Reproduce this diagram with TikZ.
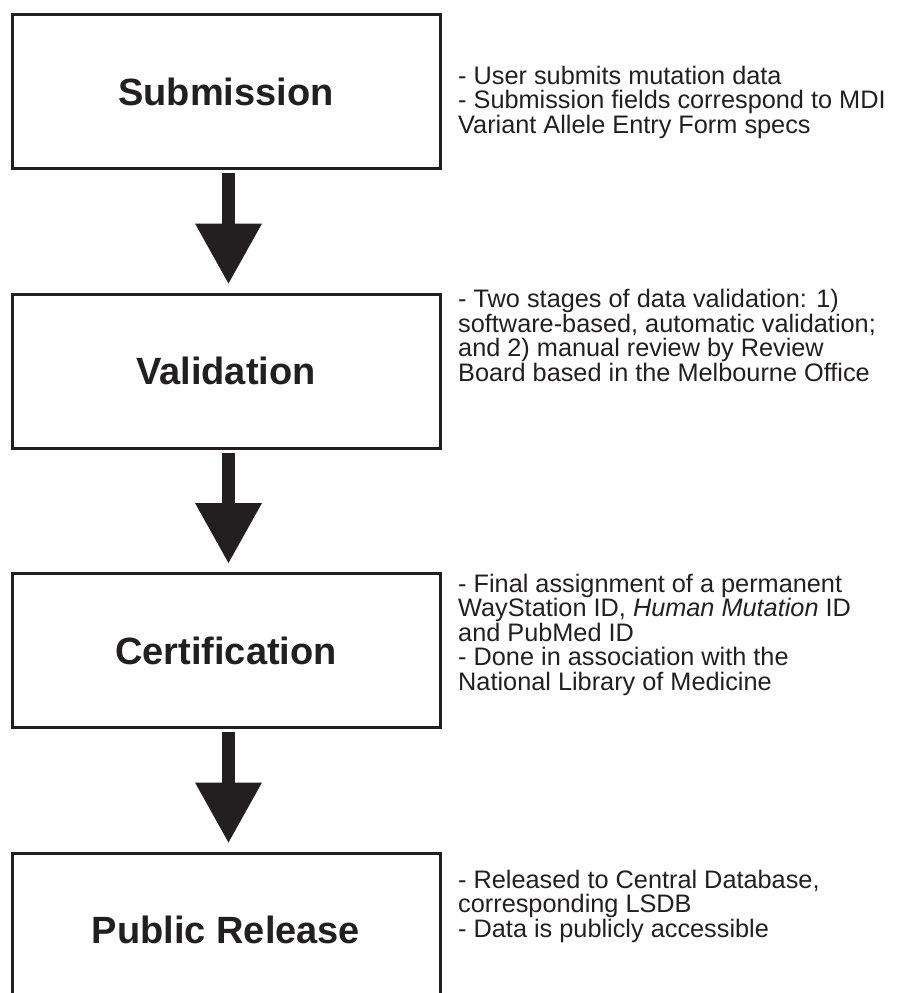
\documentclass[tikz,border=0pt]{standalone}
\usepackage{fontspec}
\setmainfont{Liberation Sans}
\usetikzlibrary{arrows.meta,positioning}
\definecolor{ink}{HTML}{231F20}

\begin{document}
\begin{tikzpicture}[x=1pt,y=-1pt,
  stage/.style={draw=ink, line width=3pt, minimum width=428pt, minimum height=154pt, inner sep=0pt, text=ink, font=\fontsize{38}{40}\selectfont\bfseries},
  note/.style={anchor=base west, align=left, inner sep=0pt, text=ink, font=\fontsize{25.3}{24.4}\selectfont},
  flow/.style={ink, line width=13pt, -{Triangle[width=67pt,length=60pt,line width=0pt]}}]
\useasboundingbox (0,0) rectangle (899,993);
\clip (0,0) rectangle (899,993);
\node[stage] (sub) at (226,91.5) {Submission};
\node[stage, below=122.5pt of sub] (val) {Validation};
\node[stage, below=122.5pt of val] (cert) {Certification};
\node[stage, below=122.5pt of cert] (rel) {Public Release};
\draw[flow] ([shift={(2.5,3)}]sub.south) -- ([shift={(2.5,-9)}]val.north);
\draw[flow] ([shift={(2.5,3)}]val.south) -- ([shift={(2.5,-9)}]cert.north);
\draw[flow] ([shift={(2.5,3)}]cert.south) -- ([shift={(2.5,-9)}]rel.north);
\node[note] (subtxt) at (458,133) {- User submits mutation data\\- Submission fields correspond to MDI\\Variant Allele Entry Form specs};
\node[note] (valtxt) at (458,381) {- Two stages of data validation: 1)\\software-based, automatic validation;\\and 2) manual review by Review\\Board based in the Melbourne Office};
\node[note] (certtxt) at (458,690) {- Final assignment of a permanent\\WayStation ID, \textit{Human Mutation} ID\\and PubMed ID\\- Done in association with the\\National Library of Medicine};
\node[note] (reltxt) at (458,937) {- Released to Central Database,\\corresponding LSDB\\- Data is publicly accessible};
\end{tikzpicture}
\end{document}
